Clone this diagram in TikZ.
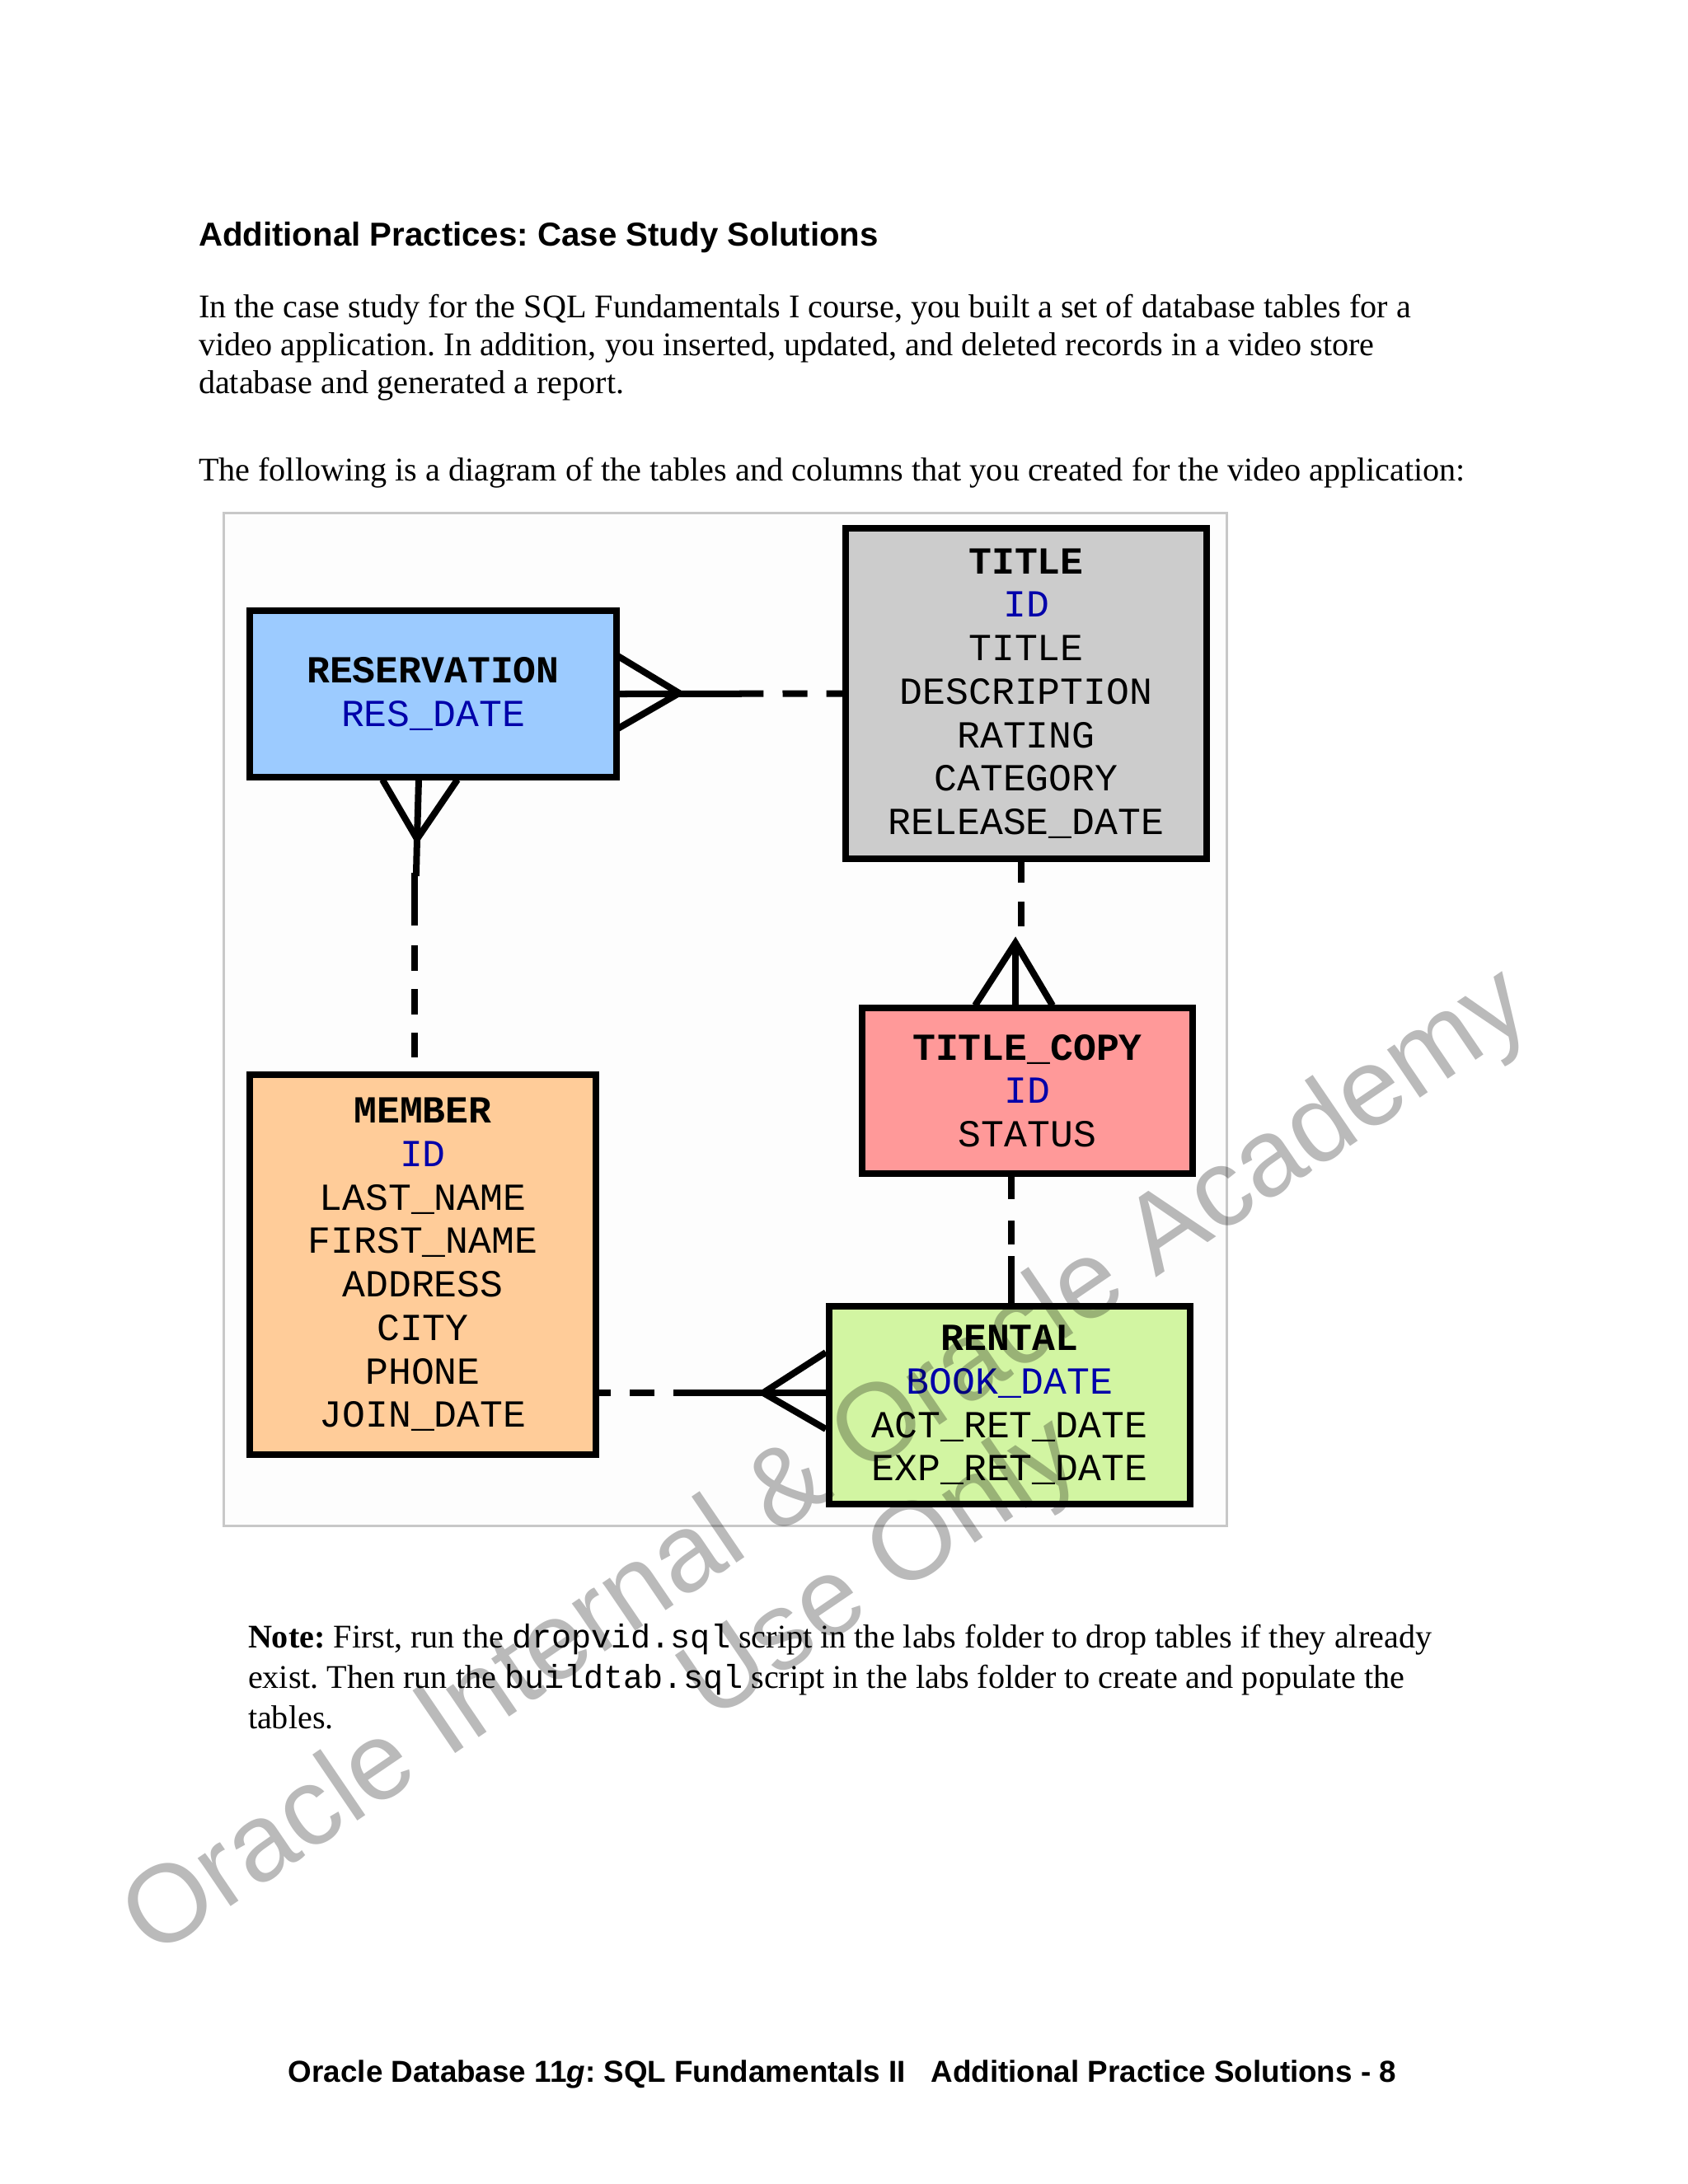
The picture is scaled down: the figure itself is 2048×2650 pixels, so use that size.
\documentclass[tikz,border=0pt]{standalone}
\usepackage{fontspec}
\setmainfont{Liberation Serif}
\setsansfont{Liberation Sans}
\setmonofont{Liberation Mono}
\usetikzlibrary{calc}
\definecolor{frameC}{HTML}{C8C8C8}
\definecolor{keyC}{HTML}{0000AA}
\definecolor{resC}{HTML}{9CCBFF}
\definecolor{titC}{HTML}{CCCCCC}
\definecolor{memC}{HTML}{FFCC99}
\definecolor{copC}{HTML}{FF9999}
\definecolor{renC}{HTML}{D2F5A2}
\definecolor{paperC}{HTML}{FDFDFD}
\newcommand{\pk}[1]{\textcolor{keyC}{#1}}
\newcommand{\tn}[1]{\textbf{#1}}
\tikzset{
  x=0.01cm,y=-0.01cm,
  entity/.style={draw=black,line width=0.08cm,outer sep=0pt,inner sep=0pt,
    align=center,font=\fontsize{13.2}{15}\selectfont\ttfamily},
  conn/.style={line width=0.08cm,line cap=butt,line join=miter},
  body/.style={anchor=base west,inner sep=0pt,outer sep=0pt,font=\fontsize{11.42}{13}\selectfont\frenchspacing},
  head/.style={anchor=base west,inner sep=0pt,outer sep=0pt,font=\fontsize{11.44}{13}\selectfont\sffamily\bfseries\frenchspacing},
  foot/.style={anchor=base,inner sep=0pt,outer sep=0pt,font=\fontsize{10.47}{13}\selectfont\sffamily\bfseries\frenchspacing},
  wmark/.style={anchor=base,inner sep=0pt,outer sep=0pt,rotate=34.2,text opacity=0.27,
    font=\fontsize{38}{44}\selectfont\sffamily},
}
\begin{document}
\begin{tikzpicture}
\useasboundingbox (0,0) rectangle (2048,2650);
\fill[white] (0,0) rectangle (2048,2650);
% frame
\node[draw=frameC,fill=paperC,line width=0.03cm,inner sep=0pt,outer sep=0pt,
  minimum width=12.16cm,minimum height=12.28cm] (frame) at (880,1237) {};
% entity boxes
\node[entity,fill=resC,minimum width=4.455cm,minimum height=2.015cm] (res) at (525.5,842)
  {\tn{RESERVATION}\\\pk{RES\_DATE}};
\node[entity,fill=titC,minimum width=4.385cm,minimum height=4.015cm] (title) at (1245,841.5)
  {\tn{TITLE}\\\pk{ID}\\TITLE\\DESCRIPTION\\RATING\\CATEGORY\\RELEASE\_DATE};
\node[entity,fill=memC,minimum width=4.205cm,minimum height=4.615cm] (member) at (513,1534.5)
  {\tn{MEMBER}\\\pk{ID}\\LAST\_NAME\\FIRST\_NAME\\ADDRESS\\CITY\\PHONE\\JOIN\_DATE};
\node[entity,fill=copC,minimum width=4.015cm,minimum height=2.015cm] (copy) at (1246.5,1323.5)
  {\tn{TITLE\_COPY}\\\pk{ID}\\STATUS};
\node[entity,fill=renC,minimum width=4.385cm,minimum height=2.405cm] (rental) at (1225,1705)
  {\tn{RENTAL}\\\pk{BOOK\_DATE}\\ACT\_RET\_DATE\\EXP\_RET\_DATE};
% crow-foot coordinates
\coordinate (rtApex) at (824,841);
\coordinate (rtA) at (748,795);
\coordinate (rtB) at (748,885);
\coordinate (rmApex) at (506,1018);
\coordinate (rmA) at (464,946);
\coordinate (rmB) at (555,946);
\coordinate (rmC) at (508,946);
\coordinate (rmJog) at (503,1059);
\coordinate (mrApex) at (926,1690);
\coordinate (mrA) at (1002,1641);
\coordinate (mrB) at (1002,1734);
\coordinate (tcApex) at (1232,1144);
\coordinate (tcA) at (1183,1220);
\coordinate (tcB) at (1277,1220);
\coordinate (tcC) at (1232,1220);
\coordinate (tcTop) at (1239,1046);
\coordinate (crTop) at (1227,1427);
% RESERVATION - TITLE
\draw[conn,dash pattern=on 1.78cm off .23cm on .30cm off .23cm on 1cm] (res.east) -- (title.west);
\draw[conn] (rtA) -- (rtApex) -- (rtB);
% RESERVATION - MEMBER
\draw[conn] (rmA) -- (rmApex) -- (rmB);
\draw[conn] (rmC) -- (rmApex) -- (505,1059) -- (rmJog);
\draw[conn,dash pattern=on .64cm off .24cm on .31cm off .22cm on .31cm off .22cm on .30cm off 1cm] (rmJog) -- (rmJog |- member.north);
% MEMBER - RENTAL
\draw[conn,dash pattern=on .18cm off .23cm on .30cm off .23cm on 3cm] (member.east |- mrApex) -- (mrApex -| rental.west);
\draw[conn] (mrA) -- (mrApex) -- (mrB);
% TITLE - TITLE_COPY
\draw[conn,dash pattern=on .25cm off .23cm on .30cm off 1cm] (tcTop) -- (tcTop |- tcApex);
\draw[conn] (tcA) -- (tcApex) -- (tcB);
\draw[conn] (tcApex) -- (tcC);
% TITLE_COPY - RENTAL
\draw[conn,dash pattern=on .28cm off .26cm on .29cm off .14cm on 1cm] (crTop) -- (crTop |- rental.north);
% page text
\node[head] (h1) at (241,298) {Additional Practices: Case Study Solutions};
\node[body] (p1) at (241,385) {In the case study for the SQL Fundamentals I course, you built a set of database tables for a};
\node[body] (p2) at (241,431) {video application. In addition, you inserted, updated, and deleted records in a video store};
\node[body] (p3) at (241,477) {database and generated a report.};
\node[body] (p4) at (241,583) {The following is a diagram of the tables and columns that you created for the video application:};
\node[body] (n1) at (301,1999) {\textbf{Note:} First, run the \texttt{dropvid.sql} script in the labs folder to drop tables if they already};
\node[body] (n2) at (301,2048) {exist. Then run the \texttt{buildtab.sql} script in the labs folder to create and populate the};
\node[body] (n3) at (301,2097) {tables.};
\node[foot] (footer) at (1022,2526) {Oracle Database 11\textit{g}: SQL Fundamentals II\ \ \ Additional Practice Solutions - 8};
% watermark
\node[wmark] (w1) at (1025,1807) {Oracle Internal \& Oracle Academy};
\node[wmark] (w2) at (1090,1936) {Use Only};
\end{tikzpicture}
\end{document}
